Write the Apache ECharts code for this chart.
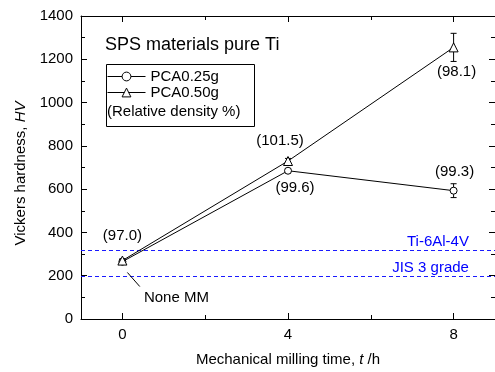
<!DOCTYPE html>
<html>
<head>
<meta charset="utf-8">
<script src="https://cdn.jsdelivr.net/npm/echarts@6/dist/echarts.min.js"></script>
<style>
html,body{margin:0;padding:0;background:#fff;}
#main{width:495px;height:372px;}
</style>
</head>
<body>
<div id="main"></div>
<script>
// milling time (h)
var times = [0, 4, 8];
// hardness HV
var pca025 = [265, 685, 593];
var pca025Err = [8, 10, 32];
var pca050 = [270, 730, 1255];
var pca050Err = [8, 12, 65];
// relative density labels
var density025 = ['', '(99.6)', '(99.3)'];
var density050 = ['(97.0)', '(101.5)', '(98.1)'];
// reference hardness lines
var refNames = ['Ti-6Al-4V', 'JIS 3 grade'];
var refValues = [320, 200];

var font = '"Liberation Sans", Arial, sans-serif';

function pts(ys){
    return times.map(function(t,i){ return [t, ys[i]]; });
}
function errs(ys,es){
    return times.map(function(t,i){ return [t, ys[i], es[i]]; });
}

var myChart = echarts.init(document.getElementById('main'));

function errRender(params, api){
    var x = api.value(0), y = api.value(1), e = api.value(2);
    var top = api.coord([x, y + e]);
    var bot = api.coord([x, y - e]);
    var w = 3;
    var st = {stroke:'#000', lineWidth:1};
    return {
        type:'group',
        children:[
            {type:'line', shape:{x1:top[0],y1:top[1],x2:bot[0],y2:bot[1]}, style:st},
            {type:'line', shape:{x1:top[0]-w,y1:top[1],x2:top[0]+w,y2:top[1]}, style:st},
            {type:'line', shape:{x1:bot[0]-w,y1:bot[1],x2:bot[0]+w,y2:bot[1]}, style:st}
        ]
    };
}

// horizontal dashed reference line across the grid
function refRender(params, api){
    var cs = params.coordSys;
    var y = Math.round(api.coord([0, api.value(0)])[1]) + 0.5;
    return {
        type:'line',
        shape:{x1:cs.x, y1:y, x2:cs.x + cs.width, y2:y},
        style:{stroke:'#1a1aff', lineWidth:1, lineDash:[4,3]}
    };
}

// label offsets (px) for density text
var off025 = [[0,0],[7,17],[1,-19]];
var off050 = [[0,-25],[-8,-20],[3,24]];
function densityData(ys, texts, offs){
    var out = [];
    times.forEach(function(t,i){
        if(!texts[i]) return;
        out.push({value:[t, ys[i]], name:texts[i], label:{offset:offs[i]}});
    });
    return out;
}

var xBase = {
    type:'value', min:-1, max:9, interval:1,
    axisLine:{show:true, onZero:false, lineStyle:{color:'#000', width:1}},
    splitLine:{show:false},
    axisLabel:{show:false},
    axisTick:{show:true, inside:true, length:6, lineStyle:{color:'#000'}, customValues:[0,4,8]}
};
function xAxisCfg(pos, minor, labels){
    var a = echarts.util.merge({}, xBase, true);
    a.position = pos;
    a.gridIndex = 0;
    if(minor){
        a.axisTick.customValues = [2,6];
        a.axisTick.length = 4;
        a.axisLine.show = false;
    }
    if(labels){
        a.axisLabel = {show:true, customValues:[0,4,8], color:'#000', fontSize:15, fontFamily:font, margin:8};
        a.name = 'Mechanical milling time, {i|t} /h';
        a.nameLocation = 'middle';
        a.nameGap = 33;
        a.nameTextStyle = {color:'#000', fontSize:15, fontFamily:font,
            rich:{i:{fontStyle:'italic', fontSize:15, fontFamily:font}}};
    }
    return a;
}

var yBase = {
    type:'value', min:0, max:1400, interval:200,
    axisLine:{show:true, onZero:false, lineStyle:{color:'#000'}},
    axisTick:{show:true, inside:true, length:6, lineStyle:{color:'#000'}},
    minorTick:{show:true, splitNumber:2, length:4, lineStyle:{color:'#000'}},
    splitLine:{show:false}
};

var labelBase = {show:true, position:[0,0], align:'center', verticalAlign:'middle',
    formatter:'{b}', color:'#000', fontSize:15, fontFamily:font};

var option = {
    animation:false,
    backgroundColor:'#fff',
    title:{
        text:'SPS materials pure Ti',
        left:105, top:36, padding:0,
        textStyle:{fontSize:18, fontWeight:'normal', color:'#000', fontFamily:font}
    },
    legend:{
        data:['PCA0.25g','PCA0.50g'],
        orient:'vertical',
        left:107, top:69,
        padding:0,
        itemWidth:38, itemHeight:11, itemGap:1,
        lineStyle:{width:1},
        itemStyle:{borderWidth:1},
        textStyle:{fontSize:15, color:'#000', fontFamily:font}
    },
    graphic:[
        {type:'rect', left:104, top:62, shape:{width:148, height:62}, style:{fill:'none', stroke:'#000', lineWidth:1}},
        {type:'text', left:107, top:104, style:{text:'(Relative density %)', fill:'#000', font:'15px ' + font}}
    ],
    grid:{left:81, right:-4, top:16, bottom:49},
    xAxis:[
        xAxisCfg('bottom', false, true),
        xAxisCfg('bottom', true, false),
        xAxisCfg('top', false, false),
        xAxisCfg('top', true, false)
    ],
    yAxis:[
        echarts.util.merge({
            position:'left',
            axisLabel:{color:'#000', fontSize:15, fontFamily:font, margin:8,
                formatter:function(v){ return String(v); }},
            name:'Vickers hardness, {i|HV}',
            nameLocation:'middle', nameGap:51, nameRotate:90,
            nameTextStyle:{color:'#000', fontSize:15, fontFamily:font, padding:[0,12,0,0],
                rich:{i:{fontStyle:'italic', fontSize:15, fontFamily:font}}}
        }, yBase),
        echarts.util.merge({position:'right', axisLabel:{show:false}}, yBase)
    ],
    series:[
        {
            type:'custom', name:'refs', renderItem:refRender, z:1, silent:true,
            data:refValues.map(function(v){ return [v]; }),
            encode:{y:0}
        },
        {
            type:'custom', name:'err025', renderItem:errRender, data:errs(pca025,pca025Err), z:1, silent:true
        },
        {
            type:'custom', name:'err050', renderItem:errRender, data:errs(pca050,pca050Err), z:1, silent:true
        },
        {
            type:'line', name:'PCA0.25g', data:pts(pca025), z:3,
            symbol:'circle', symbolSize:7,
            lineStyle:{color:'#000', width:1},
            itemStyle:{color:'#fff', borderColor:'#000', borderWidth:1}
        },
        {
            type:'line', name:'PCA0.50g', data:pts(pca050), z:4,
            symbol:'triangle', symbolSize:9,
            lineStyle:{color:'#000', width:1},
            itemStyle:{color:'#fff', borderColor:'#000', borderWidth:1}
        },
        {
            type:'line', name:'arrow', data:[], silent:true,
            itemStyle:{color:'#000'},
            markLine:{
                silent:true,
                symbol:['none','arrow'], symbolSize:[0,7],
                itemStyle:{color:'#000'},
                lineStyle:{color:'#000', type:'solid', width:1},
                label:{show:false},
                data:[[{coord:[0.42,150]},{coord:[0.12,215]}]]
            }
        },
        {
            type:'scatter', name:'d025', symbolSize:0, z:5, silent:true,
            itemStyle:{opacity:1},
            label:labelBase,
            data:densityData(pca025, density025, off025)
        },
        {
            type:'scatter', name:'d050', symbolSize:0, z:5, silent:true,
            itemStyle:{opacity:1},
            label:labelBase,
            data:densityData(pca050, density050, off050)
        },
        {
            type:'scatter', name:'notes', symbolSize:0, z:5, silent:true,
            itemStyle:{opacity:1},
            label:{show:true, formatter:'{b}', fontSize:15, fontFamily:font},
            data:[
                {value:[8.37, refValues[0] + 36], name:refNames[0], label:{position:'left', distance:0, color:'#0000ff'}},
                {value:[8.37, refValues[1] + 36], name:refNames[1], label:{position:'left', distance:0, color:'#0000ff'}},
                {value:[0.52, 96], name:'None MM', label:{position:'right', distance:0, color:'#000'}}
            ]
        }
    ]
};

myChart.setOption(option);
</script>
</body>
</html>
